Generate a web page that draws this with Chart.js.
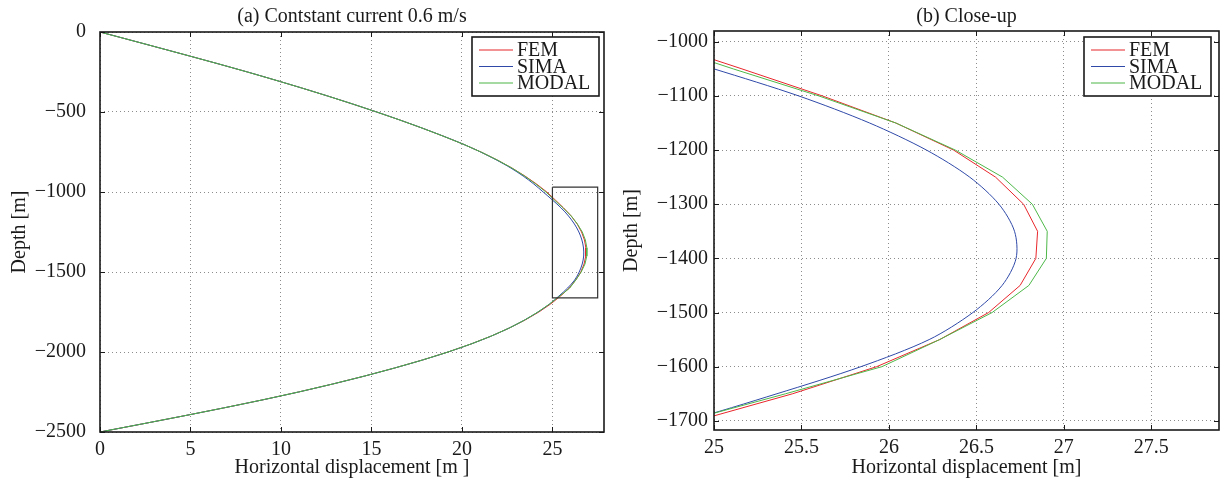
<!DOCTYPE html>
<html>
<head>
<meta charset="utf-8">
<script src="https://cdn.jsdelivr.net/npm/chart.js@4.4.1/dist/chart.umd.min.js"></script>
<style>
  body { margin: 0; background: #fff; width: 1220px; height: 487px; position: relative; overflow: hidden; }
  .panel { position: absolute; top: 0; height: 487px; }
  #panelA { left: 0; width: 612px; }
  #panelB { left: 612px; width: 608px; }
</style>
</head>
<body>
<div class="panel" id="panelA"><canvas id="chartA"></canvas></div>
<div class="panel" id="panelB"><canvas id="chartB"></canvas></div>
<script>
// Profondeur des noeuds (m), tous les 50 m
const depth = [0, -50, -100, -150, -200, -250, -300, -350, -400, -450,
    -500, -550, -600, -650, -700, -750, -800, -850, -900, -950,
    -1000, -1050, -1100, -1150, -1200, -1250, -1300, -1350, -1400, -1450,
    -1500, -1550, -1600, -1650, -1700, -1750, -1800, -1850, -1900, -1950,
    -2000, -2050, -2100, -2150, -2200, -2250, -2300, -2350, -2400, -2450, -2500];

// Déplacement horizontal (m) de chaque modèle
const fem = [0, 1.66, 3.31, 4.95, 6.57, 8.15, 9.67, 11.15, 12.58, 13.96,
    15.29, 16.57, 17.79, 18.95, 20.05, 21.05, 21.95, 22.76, 23.48, 24.12,
    24.69, 25.16, 25.62, 26.04, 26.37, 26.61, 26.77, 26.85, 26.84, 26.75,
    26.57, 26.29, 25.93, 25.45, 24.9, 24.25, 23.49, 22.62, 21.63, 20.5,
    19.23, 17.82, 16.28, 14.63, 12.86, 10.97, 8.95, 6.81, 4.59, 2.31, 0];
const sima = [0, 1.66, 3.31, 4.95, 6.57, 8.15, 9.67, 11.15, 12.58, 13.96,
    15.29, 16.57, 17.79, 18.95, 20.05, 21.03, 21.91, 22.7, 23.38, 23.97,
    24.49, 25.0, 25.485, 25.89, 26.215, 26.462, 26.629, 26.718, 26.727, 26.647,
    26.48, 26.23, 25.84, 25.36, 24.84, 24.2, 23.46, 22.61, 21.63, 20.5,
    19.23, 17.82, 16.28, 14.63, 12.86, 10.97, 8.95, 6.81, 4.59, 2.31, 0];
const modal = [0, 1.66, 3.31, 4.95, 6.57, 8.15, 9.67, 11.15, 12.58, 13.96,
    15.29, 16.57, 17.79, 18.95, 20.05, 21.05, 21.95, 22.76, 23.46, 24.08,
    24.64, 25.11, 25.6, 26.04, 26.38, 26.65, 26.82, 26.905, 26.9, 26.8,
    26.59, 26.29, 25.96, 25.41, 24.84, 24.2, 23.47, 22.62, 21.63, 20.5,
    19.23, 17.82, 16.28, 14.63, 12.86, 10.97, 8.95, 6.81, 4.59, 2.31, 0];

// Cadre du zoom dessiné sur le graphique (a)
const zoomBoxX = [25, 27.5, 27.5, 25, 25];
const zoomBoxY = [-970, -970, -1662, -1662, -970];

// Graduations
const xTicksA = [0, 5, 10, 15, 20, 25];
const yTicksA = [0, -500, -1000, -1500, -2000, -2500];
const xTicksB = [25, 25.5, 26, 26.5, 27, 27.5];
const yTicksB = [-1000, -1100, -1200, -1300, -1400, -1500, -1600, -1700];

const serif = '"Liberation Serif", "Times New Roman", serif';
const fontSize = 20;
const ink = '#1a1a1a';

function points(xs, ys) {
    return xs.map((v, i) => ({ x: v, y: ys[i] }));
}

function fmt(v) {
    return String(v).replace('-', '\u2212');
}

// ordre : MODAL tracé en dernier (au-dessus), comme dans MATLAB
function curves() {
    return [
        { label: 'FEM', data: points(fem, depth), borderColor: '#e8262b', borderWidth: 1, tension: 0, order: 3 },
        { label: 'SIMA', data: points(sima, depth), borderColor: '#2f49a8', borderWidth: 1, tension: 0.3, order: 2 },
        { label: 'MODAL', data: points(modal, depth), borderColor: '#4db848', borderWidth: 1, tension: 0, order: 1 }
    ];
}

// Cadre, graduations intérieures, titre et légende (style MATLAB)
const matlabFrame = {
    id: 'matlabFrame',
    afterDraw(chart, args, opts) {
        const ctx = chart.ctx;
        const a = chart.chartArea;
        const sx = chart.scales.x, sy = chart.scales.y;
        ctx.save();
        ctx.strokeStyle = ink;
        ctx.lineWidth = 1;
        ctx.beginPath();
        sx.ticks.forEach(t => {
            const p = Math.round(sx.getPixelForValue(t.value)) + 0.5;
            ctx.moveTo(p, a.bottom); ctx.lineTo(p, a.bottom - 5);
            ctx.moveTo(p, a.top); ctx.lineTo(p, a.top + 5);
        });
        sy.ticks.forEach(t => {
            const p = Math.round(sy.getPixelForValue(t.value)) + 0.5;
            ctx.moveTo(a.left, p); ctx.lineTo(a.left + 5, p);
            ctx.moveTo(a.right, p); ctx.lineTo(a.right - 5, p);
        });
        ctx.stroke();
        ctx.lineWidth = 1.6;
        ctx.strokeRect(a.left, a.top, a.right - a.left, a.bottom - a.top);

        // titre
        ctx.fillStyle = ink;
        ctx.font = fontSize + 'px ' + serif;
        ctx.textAlign = 'center';
        ctx.textBaseline = 'alphabetic';
        ctx.fillText(opts.title, (a.left + a.right) / 2, 22);

        // légende
        const w = 127, h = 59;
        const bx = a.right - opts.legendRight - w;
        const by = a.top + opts.legendTop;
        ctx.fillStyle = '#fff';
        ctx.fillRect(bx, by, w, h);
        ctx.strokeStyle = ink;
        ctx.lineWidth = 1.6;
        ctx.strokeRect(bx, by, w, h);
        chart.data.datasets.filter(d => d.label).forEach((ds, i) => {
            const yy = by + 13 + i * 16.5;
            ctx.strokeStyle = ds.borderColor;
            ctx.lineWidth = 1.2;
            ctx.beginPath();
            ctx.moveTo(bx + 7, yy); ctx.lineTo(bx + 41, yy);
            ctx.stroke();
            ctx.fillStyle = ink;
            ctx.textAlign = 'left';
            ctx.textBaseline = 'middle';
            ctx.fillText(ds.label, bx + 45, yy + 1);
        });
        ctx.restore();
    }
};

function axes(xmin, xmax, ymin, ymax, xTicks, yTicks, yPad, yWidth, xHeight, xTitle) {
    const grid = { color: 'rgba(0,0,0,0.45)', lineWidth: 1, drawTicks: false };
    const font = { family: serif, size: fontSize };
    return {
        x: {
            type: 'linear', min: xmin, max: xmax,
            afterBuildTicks: s => { s.ticks = xTicks.map(v => ({ value: v })); },
            afterFit: s => { s.height = xHeight; },
            grid: grid,
            border: { display: false, dash: [1, 3] },
            ticks: { color: ink, padding: 6, font: font, callback: v => fmt(v) },
            title: { display: true, text: xTitle, color: ink, font: font, padding: { top: 7, bottom: 7 } }
        },
        y: {
            type: 'linear', min: ymin, max: ymax,
            afterBuildTicks: s => { s.ticks = yTicks.map(v => ({ value: v })); },
            afterFit: s => { s.width = yWidth; },
            grid: grid,
            border: { display: false, dash: [1, 3] },
            ticks: { color: ink, padding: yPad, font: font, callback: v => fmt(v) },
            title: { display: true, text: 'Depth [m]', color: ink, font: font, padding: { top: 8, bottom: 8 } }
        }
    };
}

// Graphique (a) : profil complet
const datasetsA = curves();
datasetsA.push({ label: '', data: points(zoomBoxX, zoomBoxY), borderColor: '#333', borderWidth: 1.2, tension: 0, order: 0 });
new Chart(document.getElementById('chartA'), {
    type: 'line',
    data: { datasets: datasetsA },
    options: {
        responsive: true,
        maintainAspectRatio: false,
        animation: false,
        elements: { point: { radius: 0 } },
        layout: { padding: { top: 32, right: 8, left: 0, bottom: 0 } },
        scales: axes(0, 27.85, -2500, 0, xTicksA, yTicksA, 14, 100, 55, 'Horizontal displacement [m ]'),
        plugins: {
            legend: { display: false },
            tooltip: { enabled: false },
            matlabFrame: { title: '(a) Contstant current 0.6 m/s', legendRight: 5, legendTop: 5 }
        }
    },
    plugins: [matlabFrame]
});

// Graphique (b) : zoom autour du déplacement maximal
new Chart(document.getElementById('chartB'), {
    type: 'line',
    data: { datasets: curves() },
    options: {
        responsive: true,
        maintainAspectRatio: false,
        animation: false,
        elements: { point: { radius: 0 } },
        layout: { padding: { top: 31, right: 1, left: 0, bottom: 0 } },
        scales: axes(25, 27.887, -1717, -980, xTicksB, yTicksB, 6, 102, 57, 'Horizontal displacement [m]'),
        plugins: {
            legend: { display: false },
            tooltip: { enabled: false },
            matlabFrame: { title: '(b) Close-up', legendRight: 8, legendTop: 6 }
        }
    },
    plugins: [matlabFrame]
});
</script>
</body>
</html>
